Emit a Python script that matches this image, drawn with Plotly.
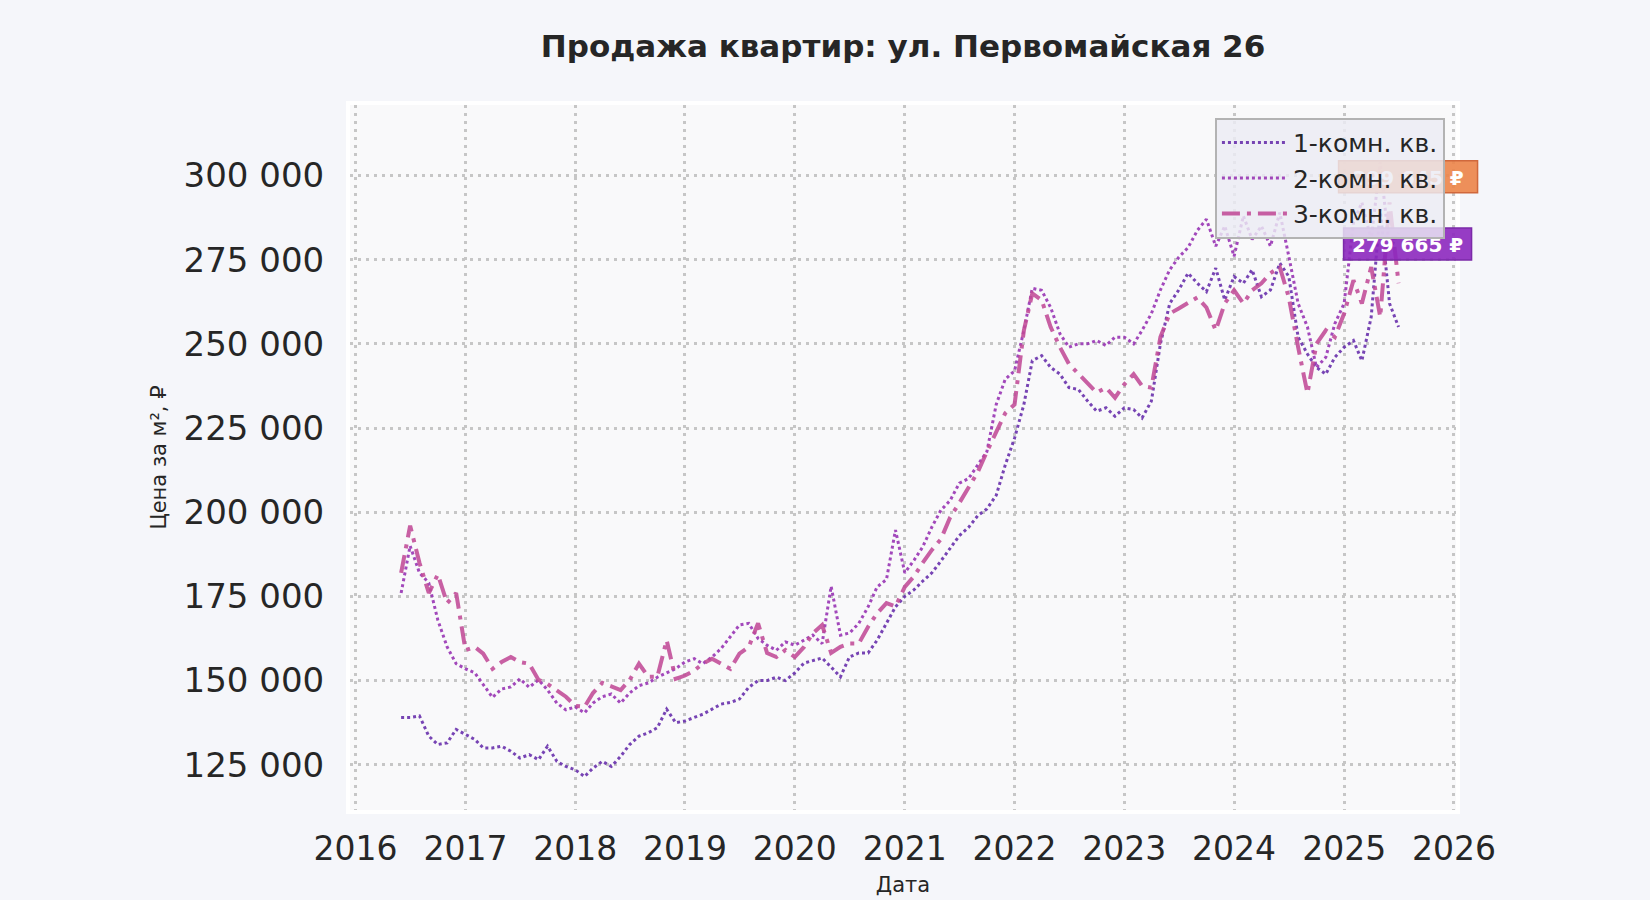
import pandas as pd
import plotly.graph_objects as go

# monthly observations, Jun 2016 .. Jul 2025
dates = pd.date_range("2016-06-01", "2025-07-01", freq="MS")

price_1room = [
    139000, 139000, 139500, 133500, 131000, 131500, 135500,
    134000, 132500, 130000, 130000, 130500, 129000, 127000, 128000, 126500, 130500, 126000, 124500,
    123500, 121500, 124000, 126000, 124500, 127500, 131000, 133500, 134500, 136000, 141500, 137500,
    138000, 139000, 140000, 141500, 143000, 143500, 144500, 148000, 150000, 150000, 151000, 150000,
    152300, 155200, 156000, 156700, 154000, 151100, 157000, 158200, 158200, 162000, 167000, 171900,
    175000, 177000, 179500, 182000, 185500, 189500, 193000, 195500, 199000, 201000, 205000, 214000,
    222000, 232000, 245000, 246500, 243000, 241000, 237000, 236500, 233000, 230000, 231000, 228500,
    231000, 230500, 228000, 233000, 250000, 262000, 266000, 271000, 268000, 265500, 272500, 263000,
    270000, 268000, 272000, 264000, 266000, 274000, 270000, 252000, 247000, 243000, 241000, 246000,
    249000, 251000, 245000, 258000, 290000, 262000, 255000,
]

price_2room = [
    176000, 190000, 182000, 179000, 168000, 160000, 155000,
    153500, 152300, 149000, 145000, 147500, 148100, 150500, 148000, 150200, 147200, 143300, 141300,
    142200, 140400, 143300, 145200, 146000, 143300, 146300, 148500, 149300, 151000, 152300, 153500,
    155500, 156500, 155000, 157000, 159500, 163000, 166500, 167000, 162500, 160500, 159000, 161500,
    160500, 162000, 163500, 161000, 178000, 163500, 164100, 167000, 171900, 177800, 180000, 194700,
    182000, 185800, 189600, 195600, 200600, 203500, 208600, 210000, 214000, 218000, 232000, 239500,
    242000, 254000, 266500, 265900, 260800, 253000, 249000, 250000, 250000, 251000, 249500, 252000,
    252000, 250000, 254000, 259000, 266000, 272000, 275700, 278600, 283700, 287000, 279000, 285000,
    276000, 288000, 281000, 285000, 279000, 289000, 276000, 262000, 255000, 243000, 246000, 256000,
    262000, 286000, 292000, 281000, 304000, 278000, 283000,
]

price_3room = [
    182000, 196000, 185000, 176000, 181500, 173000, 176000,
    159000, 160000, 158000, 153500, 155500, 157000, 155500, 155000, 150200, 149000, 147200, 145200,
    142500, 142200, 146300, 149300, 148300, 147200, 150200, 155000, 151100, 151100, 162000, 150500,
    151500, 153000, 155000, 156500, 155000, 153500, 158000, 160000, 167000, 158200, 157000, 159100,
    157000, 160000, 164000, 166500, 158200, 160000, 161000, 161000, 166000, 170000, 173000, 172000,
    177800, 181000, 184900, 188800, 192000, 198500, 202700, 207400, 212000, 218000, 224000, 229400,
    232000, 254000, 265000, 263000, 255000, 249000, 244000, 241000, 238000, 235500, 237000, 234000,
    238000, 241000, 237500, 237000, 252000, 259000, 260500, 262000, 263800, 260800, 254000, 262000,
    265900, 262000, 265900, 268000, 271000, 272800, 263800, 249000, 235300, 250000, 254000, 252000,
    259000, 268900, 262000, 272800, 258000, 292000, 268000,
]

series_names = ["1-комн. кв.", "2-комн. кв.", "3-комн. кв."]
label_values = [299645, 279665]
label_texts = ["299 645 ₽", "279 665 ₽"]

FONT = "DejaVu Sans"
W, H = 1650, 900
M = dict(l=350, r=194, t=105, b=90)
PLOT_W = W - M["l"] - M["r"]
PLOT_H = H - M["t"] - M["b"]
x_range = [pd.Timestamp("2015-12-14"), pd.Timestamp("2026-01-08")]
y_range = [111560, 320940]

fig = go.Figure()

styles = [
    dict(color="rgba(104,48,172,0.9)", width=3, dash="dot"),
    dict(color="rgba(152,52,180,0.9)", width=3, dash="dot"),
    dict(color="rgba(192,74,150,0.88)", width=4, dash="18px,7px,4px,7px"),
]
for name, values, st in zip(series_names, [price_1room, price_2room, price_3room], styles):
    fig.add_trace(go.Scatter(x=dates, y=values, mode="lines", name=name, line=st))

# value badges at the last date (kept under the legend like the original)
badge_style = [
    dict(fill="rgba(236,132,72,0.9)", edge="#d0683c", left=60, right=79),
    dict(fill="rgba(140,40,190,0.9)", edge="#7b2aa8", left=55, right=73),
]
xf = (dates[-1] - x_range[0]) / (x_range[1] - x_range[0])
for val, txt, bs in zip(label_values, label_texts, badge_style):
    yf = (val - y_range[0]) / (y_range[1] - y_range[0])
    fig.add_shape(
        type="rect", xref="paper", yref="paper", layer="above",
        x0=xf - bs["left"] / PLOT_W, x1=xf + bs["right"] / PLOT_W,
        y0=yf - 16 / PLOT_H, y1=yf + 16 / PLOT_H,
        fillcolor=bs["fill"], line=dict(color=bs["edge"], width=1.5),
        label=dict(text="<b>" + txt + "</b>", textposition="middle center",
                   font=dict(family=FONT, size=20, color="white")),
    )

grid = dict(showgrid=True, gridcolor="#c6c6c6", gridwidth=2.5, griddash="3px,5px",
            showline=True, linecolor="white", linewidth=4, mirror=True, automargin=False,
            zeroline=False, ticks="", tickfont=dict(family=FONT, size=33, color="#262626"))

fig.update_xaxes(grid, range=x_range, dtick="M12", tick0="2016-01-01", tickformat="%Y",
                 ticklabelstandoff=6,
                 title=dict(text="Дата", font=dict(family=FONT, size=21, color="#262626"), standoff=12))
fig.update_yaxes(grid, range=y_range, dtick=25000, tick0=0, tickformat=",d",
                 ticklabelstandoff=15,
                 tickfont=dict(family=FONT, size=34, color="#262626"),
                 title=dict(text="Цена за м², ₽", font=dict(family=FONT, size=21, color="#262626"), standoff=12))

fig.update_layout(
    width=W, height=H,
    margin=M,
    paper_bgcolor="#f5f6fa",
    plot_bgcolor="#f9f9fa",
    separators=". ",
    font=dict(family=FONT, color="#262626"),
    title=dict(text="Продажа квартир: ул. Первомайская 26", x=0.5, xref="paper",
               y=0.949, yref="container", yanchor="middle",
               font=dict(family=FONT, size=31, weight="bold", color="#262626")),
    legend=dict(x=0.99, y=0.982, xanchor="right", yanchor="top", itemwidth=66,
                bgcolor="rgba(236,236,244,0.82)", bordercolor="#b3b3b3", borderwidth=2,
                font=dict(family=FONT, size=25, color="#262626")),
    showlegend=True,
)

fig.write_html("out.html", config={"displayModeBar": False},
               post_script="document.body.style.margin='0';document.body.style.overflow='hidden';")
